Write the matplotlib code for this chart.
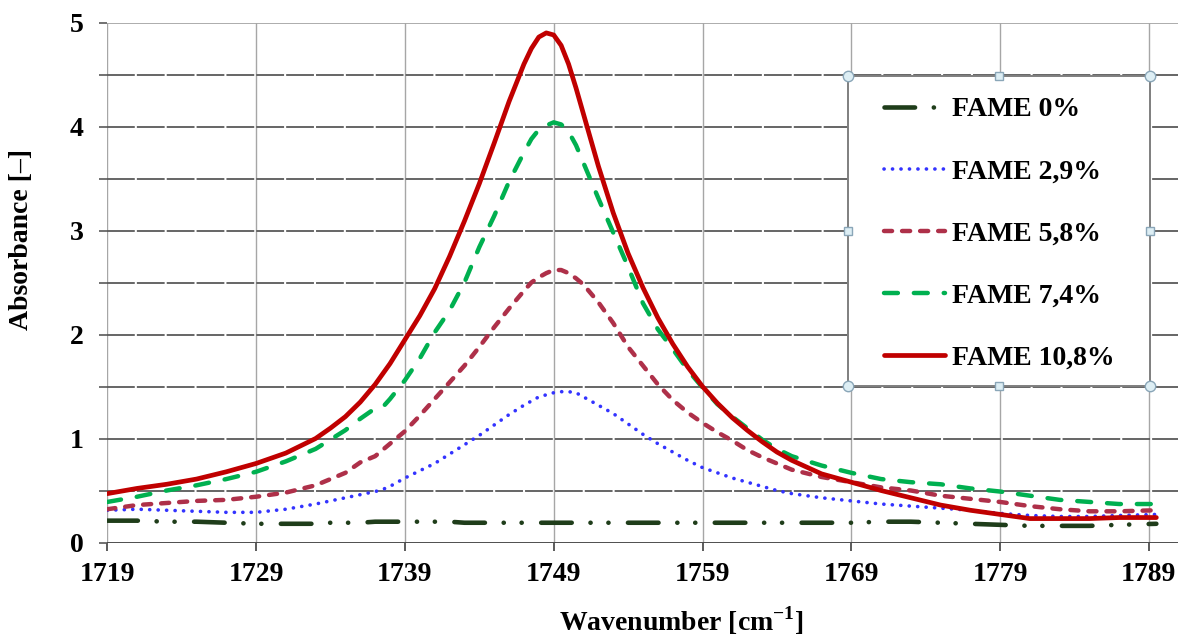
import numpy as np
import matplotlib
matplotlib.use("Agg")
import matplotlib.pyplot as plt
from matplotlib.patches import Rectangle

plt.rcParams['font.family'] = ['Liberation Serif', 'DejaVu Serif']
plt.rcParams['font.weight'] = 'bold'
plt.rcParams['mathtext.fontset'] = 'custom'
plt.rcParams['mathtext.rm'] = 'Liberation Serif:bold'
plt.rcParams['mathtext.bf'] = 'Liberation Serif:bold'
plt.rcParams['lines.scale_dashes'] = False

# ---------------- data ----------------
wavenumber = [1719, 1721, 1723, 1725, 1727, 1729, 1731, 1733,
              1734, 1735, 1736, 1737, 1737.5, 1738, 1739,
              1740, 1741, 1742, 1743, 1744, 1745, 1746, 1747, 1747.5, 1748,
              1748.5, 1749, 1749.5, 1750, 1750.5, 1751,
              1752, 1753, 1754, 1755, 1756, 1757, 1758, 1759, 1760, 1761, 1762, 1763, 1764, 1765,
              1767, 1769, 1771, 1773, 1775, 1777, 1779, 1781, 1783, 1785, 1787,
              1789.5]

fame_0 = [0.21, 0.21, 0.20, 0.20, 0.19, 0.18, 0.18, 0.18,
          0.19, 0.19, 0.19, 0.20, 0.20, 0.20, 0.20,
          0.20, 0.20, 0.20, 0.19, 0.19, 0.19, 0.19, 0.19, 0.19, 0.19,
          0.19, 0.19, 0.19, 0.19, 0.19, 0.19,
          0.19, 0.19, 0.19, 0.19, 0.19, 0.19, 0.19, 0.19, 0.19, 0.19, 0.19, 0.19, 0.19, 0.19,
          0.19, 0.19, 0.20, 0.20, 0.19, 0.18, 0.17, 0.16, 0.16, 0.16, 0.17,
          0.18]

fame_2_9 = [0.31, 0.32, 0.31, 0.30, 0.29, 0.29, 0.32, 0.37,
            0.40, 0.43, 0.46, 0.49, 0.51, 0.54, 0.62,
            0.69, 0.76, 0.85, 0.94, 1.03, 1.13, 1.23, 1.32, 1.36, 1.40,
            1.42, 1.44, 1.45, 1.45, 1.44, 1.40,
            1.32, 1.24, 1.14, 1.04, 0.95, 0.87, 0.79, 0.72, 0.67, 0.62, 0.58, 0.54, 0.50, 0.47,
            0.43, 0.40, 0.37, 0.35, 0.33, 0.31, 0.28, 0.26, 0.25, 0.25, 0.26,
            0.27]

fame_5_8 = [0.32, 0.36, 0.38, 0.40, 0.41, 0.44, 0.48, 0.55,
            0.61, 0.67, 0.77, 0.83, 0.89, 0.95, 1.07,
            1.22, 1.38, 1.54, 1.70, 1.88, 2.07, 2.25, 2.42, 2.50, 2.55,
            2.59, 2.62, 2.62, 2.59, 2.54, 2.48,
            2.31, 2.11, 1.88, 1.70, 1.52, 1.37, 1.25, 1.15, 1.06, 0.98, 0.89, 0.82, 0.76, 0.70,
            0.63, 0.58, 0.53, 0.50, 0.45, 0.42, 0.39, 0.35, 0.32, 0.30, 0.30,
            0.31]

fame_7_4 = [0.39, 0.44, 0.50, 0.55, 0.61, 0.68, 0.78, 0.90,
            0.99, 1.08, 1.19, 1.29, 1.30, 1.38, 1.56,
            1.77, 2.02, 2.23, 2.50, 2.84, 3.14, 3.47, 3.75, 3.88, 3.97,
            4.01, 4.04, 4.02, 3.95, 3.82, 3.65,
            3.31, 2.98, 2.65, 2.30, 2.05, 1.86, 1.66, 1.49, 1.33, 1.21, 1.10, 0.99, 0.90, 0.83,
            0.74, 0.67, 0.61, 0.58, 0.56, 0.52, 0.49, 0.45, 0.41, 0.39, 0.37,
            0.37]

fame_10_8 = [0.47, 0.52, 0.56, 0.61, 0.68, 0.76, 0.86, 1.00,
             1.10, 1.21, 1.35, 1.52, 1.62, 1.72, 1.95,
             2.18, 2.44, 2.75, 3.09, 3.45, 3.84, 4.24, 4.60, 4.75, 4.86,
             4.90, 4.88, 4.78, 4.60, 4.37, 4.12,
             3.62, 3.17, 2.78, 2.45, 2.16, 1.91, 1.69, 1.50, 1.34, 1.20, 1.08, 0.97, 0.87, 0.79,
             0.66, 0.58, 0.50, 0.43, 0.36, 0.31, 0.27, 0.23, 0.23, 0.23, 0.24,
             0.24]

series_labels = ["FAME 0%", "FAME 2,9%", "FAME 5,8%", "FAME 7,4%", "FAME 10,8%"]
x_ticks = [1719, 1729, 1739, 1749, 1759, 1769, 1779, 1789]
y_ticks = [0, 1, 2, 3, 4, 5]
y_minor = [0.5, 1.5, 2.5, 3.5, 4.5]

# ---------------- figure ----------------
W, H = 1178, 639
FS = 20
fig = plt.figure(figsize=(W / 100, H / 100), dpi=100)
ax_left, ax_bottom, ax_top = 107.3, 542.5, 22.5
ax = fig.add_axes([ax_left / W, (H - ax_bottom) / H, (W - ax_left) / W, (ax_bottom - ax_top) / H])
ax.set_xlim(1719, 1719 + (W - ax_left) / 14.88)
ax.set_ylim(0, 5)

for s in ax.spines.values():
    s.set_visible(False)

# grid
for v in x_ticks:
    ax.axvline(v, color='#A6A6A6', lw=1.0, zorder=1)
for v in y_minor + y_ticks[1:-1]:
    ax.axhline(v, color='#595959', lw=1.3, dashes=(20, 1.5), zorder=1)
ax.axhline(0, color='#404040', lw=1.3, zorder=1)
ax.axhline(5, color='#A6A6A6', lw=1.3, zorder=1)

ax.set_xticks(x_ticks)
ax.set_xticklabels([str(t) for t in x_ticks])
ax.set_yticks(y_ticks)
ax.set_yticklabels([str(t) for t in y_ticks])
ax.set_yticks(y_minor, minor=True)
ax.tick_params(axis='x', direction='out', length=5.8, width=1.2, color='#404040',
               labelsize=FS, pad=8)
ax.tick_params(axis='y', which='both', direction='out', length=5.8, width=1.2,
               color='#595959', labelsize=FS, pad=11)
for lab in ax.get_xticklabels() + ax.get_yticklabels():
    lab.set_fontweight('bold')

# curves
ax.plot(wavenumber, fame_0, color='#1F3D1A', lw=3.3, solid_capstyle='round',
        dash_capstyle='round', dashes=(22, 13.5, 0.1, 12.8, 0.1, 14), label=series_labels[0], zorder=3)
ax.plot(wavenumber, fame_2_9, color='#3333FF', lw=2.6, dash_capstyle='round',
        dashes=(0.1, 6), label=series_labels[1], zorder=3)
ax.plot(wavenumber, fame_5_8, color='#AE3049', lw=3.2, dash_capstyle='round',
        dashes=(5.8, 7.2), label=series_labels[2], zorder=3)
ax.plot(wavenumber, fame_7_4, color='#00B050', lw=3.2, dash_capstyle='round',
        dashes=(10, 11.5), label=series_labels[3], zorder=3)
ax.plot(wavenumber, fame_10_8, color='#C00000', lw=3.4, solid_capstyle='round',
        solid_joinstyle='round', label=series_labels[4], zorder=3)

# legend box (white frame)
axw = W - ax_left
axh = ax_bottom - ax_top
bx0 = (848 - ax_left) / axw
bx1 = (1150 - ax_left) / axw
by0 = (ax_bottom - 386) / axh
by1 = (ax_bottom - 76) / axh
ax.add_patch(Rectangle((bx0, by0), bx1 - bx0, by1 - by0, transform=ax.transAxes,
                       facecolor='white', edgecolor='#7F7F7F', lw=1.4, zorder=4))

leg = ax.legend(loc='upper left', bbox_to_anchor=((884 - ax_left) / axw, (ax_bottom - 97) / axh),
                frameon=False, borderpad=0, borderaxespad=0, labelspacing=1.32,
                handlelength=2.2, handletextpad=0.25,
                prop={'family': 'Liberation Serif', 'weight': 'bold', 'size': FS})
leg.set_zorder(6)

# selection handles on the legend frame
bxm = (bx0 + bx1) / 2
bym = (by0 + by1) / 2
ax.plot([bx0, bx1, bx0, bx1], [by0, by0, by1, by1], linestyle='none', marker='o',
        markersize=7.5, markerfacecolor='#DDEEF4', markeredgecolor='#8AA6B8', mew=1.0,
        transform=ax.transAxes, clip_on=False, zorder=7)
ax.plot([bxm, bxm, bx0, bx1], [by0, by1, bym, bym], linestyle='none', marker='s',
        markersize=6, markerfacecolor='#DDEEF4', markeredgecolor='#8AA6B8', mew=1.0,
        transform=ax.transAxes, clip_on=False, zorder=7)

# axis labels
fig.text(22 / W, 1 - 239 / H, "Absorbance [–]", rotation=90, ha='center', va='center',
         fontsize=FS, fontweight='bold')
fig.text(681 / W, (H - 631) / H, r"Wavenumber [cm$^{\mathbf{-1}}$]", ha='center', va='baseline',
         fontsize=FS, fontweight='bold')

fig.savefig("out.png", dpi=100)
